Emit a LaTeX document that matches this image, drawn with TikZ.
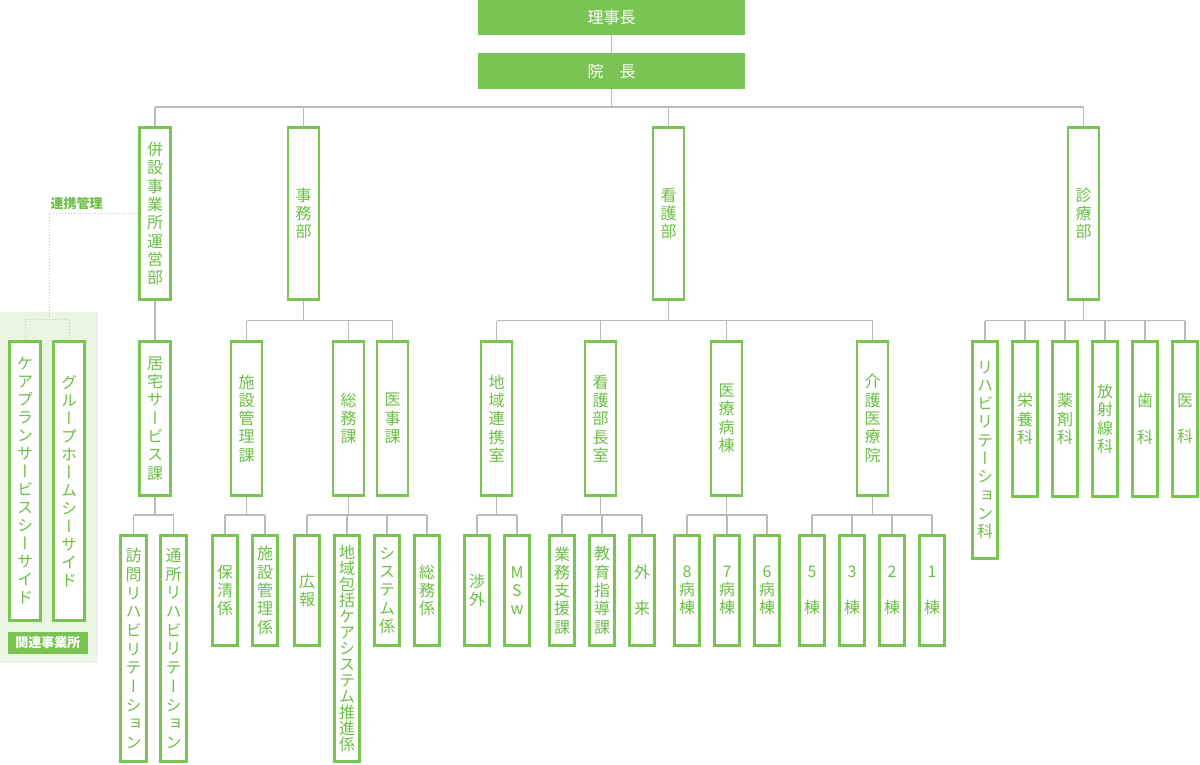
\documentclass[tikz,border=0pt]{standalone}
\usepackage{fontspec}
\setmainfont{Noto Sans CJK JP}
\newfontfamily\vjp[RawFeature=+vert]{Noto Sans CJK JP}
\usetikzlibrary{backgrounds}
\definecolor{gr}{HTML}{7AC454}
\definecolor{gt}{HTML}{6CBF45}
\definecolor{ln}{HTML}{BBBBBB}
\definecolor{dl}{HTML}{C8C8C8}
\definecolor{bgc}{HTML}{EBF5E3}
\pgfdeclarelayer{bottomlayer}
\pgfsetlayers{bottomlayer,background,main}
\newcommand\orgtree[5]{%
  \draw[conn] (#1.south) -- (#1.south |- 0,#2);
  \draw[conn] (#3.north |- 0,#2) -- (#4.north |- 0,#2);
  \foreach \c in {#5} {\draw[conn] (\c.north) -- (\c.north |- 0,#2);}%
}
\begin{document}
\begin{tikzpicture}[x=1pt,y=-1pt,
  conn/.style={draw=ln, line width=1.2pt},
  dotc/.style={draw=dl, line width=1pt, dotted},
  vpitch/.style={font=\vjp\fontsize{16}{#1}\selectfont},
  box/.style={draw=gr, line width=2.8pt, fill=white, inner sep=0pt, text=gt, align=center, vpitch=18.3},
  Ltwo/.style={box, minimum width=31pt, minimum height=172pt},
  Lthree/.style={box, minimum width=31pt, minimum height=154pt},
  Lfour/.style={box, minimum width=25.5pt, minimum height=110pt},
  Llong/.style={box, minimum width=25.5pt, minimum height=226pt},
  Lclin/.style={box, minimum width=25.5pt, minimum height=155pt},
  topbox/.style={fill=gr, inner sep=0pt, text=white, font=\fontsize{16}{18}\selectfont, minimum width=267pt},
  smalllabel/.style={inner sep=0pt, font=\bfseries\fontsize{13}{15}\selectfont}
]
\useasboundingbox (0,0) rectangle (1200,764);
\begin{pgfonlayer}{bottomlayer}
  \fill[bgc] (0,312) rectangle (98,663);
\end{pgfonlayer}

% top
\node[topbox, minimum height=35pt] (riji) at (611.5,17.5) {理事長};
\node[topbox, minimum height=36pt] (incho) at (611.5,71) {院　長};

% level 2
\node[Ltwo] (b1) at (155,213.5) {併\\設\\事\\業\\所\\運\\営\\部};
\node[Ltwo] (b2) at (303.5,213.5) {事\\務\\部};
\node[Ltwo] (b3) at (668.5,213.5) {看\\護\\部};
\node[Ltwo] (b4) at (1083.5,213.5) {診\\療\\部};

% level 3
\node[Lthree] (kyotaku) at (155,418.5) {居\\宅\\サ\\ー\\ビ\\ス\\課};
\node[Lthree] (shisetsu) at (246.5,418.5) {施\\設\\管\\理\\課};
\node[Lthree] (somu) at (348.5,418.5) {総\\務\\課};
\node[Lthree] (iji) at (392.5,418.5) {医\\事\\課};
\node[Lthree] (chiiki) at (496.5,418.5) {地\\域\\連\\携\\室};
\node[Lthree] (bucho) at (600.5,418.5) {看\\護\\部\\長\\室};
\node[Lthree] (iryo) at (726.5,418.5) {医\\療\\病\\棟};
\node[Lthree] (kaigo) at (872.5,418.5) {介\\護\\医\\療\\院};

% level 4
\node[Llong, vpitch=18.7] (houmon) at (133.5,648.5) {訪\\問\\リ\\ハ\\ビ\\リ\\テ\\ー\\シ\\ョ\\ン};
\node[Llong, vpitch=18.7] (tsusho) at (173.5,648.5) {通\\所\\リ\\ハ\\ビ\\リ\\テ\\ー\\シ\\ョ\\ン};
\node[Lfour] (hosei) at (225,590.5) {保\\清\\係};
\node[Lfour] (shisetsukakari) at (265,590.5) {施\\設\\管\\理\\係};
\node[Lfour] (koho) at (307,590.5) {広\\報};
\node[Llong, vpitch=16] (houkatsu) at (347,648.5) {地\\域\\包\\括\\ケ\\ア\\シ\\ス\\テ\\ム\\推\\進\\係};
\node[Lfour] (system) at (387,590.5) {シ\\ス\\テ\\ム\\係};
\node[Lfour] (somukakari) at (427,590.5) {総\\務\\係};
\node[Lfour] (shogai) at (477,590.5) {渉\\外};
\node[Lfour] (msw) at (517,590.5) {M\\S\\w};
\node[Lfour] (gyomu) at (562,590.5) {業\\務\\支\\援\\課};
\node[Lfour] (kyoiku) at (602,590.5) {教\\育\\指\\導\\課};
\node[Lfour] (gairai) at (642,590.5) {外\\　\\来};
\node[Lfour] (w8) at (687,590.5) {8\\病\\棟};
\node[Lfour] (w7) at (727,590.5) {7\\病\\棟};
\node[Lfour] (w6) at (767,590.5) {6\\病\\棟};
\node[Lfour] (k5) at (812,590.5) {5\\　\\棟};
\node[Lfour] (k3) at (852,590.5) {3\\　\\棟};
\node[Lfour] (k2) at (892,590.5) {2\\　\\棟};
\node[Lfour] (k1) at (932,590.5) {1\\　\\棟};

% clinical
\node[box, minimum width=25.5pt, minimum height=217pt] (rehab) at (985,450) {リ\\ハ\\ビ\\リ\\テ\\ー\\シ\\ョ\\ン\\科};
\node[Lclin] (eiyo) at (1025,419) {栄\\養\\科};
\node[Lclin] (yakuzai) at (1065,419) {薬\\剤\\科};
\node[Lclin] (hoshasen) at (1105,419) {放\\射\\線\\科};
\node[Lclin] (shika) at (1145,419) {歯\\　\\科};
\node[Lclin] (ika) at (1185,419) {医\\　\\科};

% related facilities
\node[box, minimum width=31pt, minimum height=279pt, vpitch=18] (care) at (25,481) {ケ\\ア\\プ\\ラ\\ン\\サ\\ー\\ビ\\ス\\シ\\ー\\サ\\イ\\ド};
\node[box, minimum width=31pt, minimum height=279pt, vpitch=18] (group) at (69,481) {グ\\ル\\ー\\プ\\ホ\\ー\\ム\\シ\\ー\\サ\\イ\\ド};
\node[smalllabel, fill=gr, text=white, minimum width=80pt, minimum height=22pt] (kanren) at (48,643) {関連事業所};
\node[smalllabel, text=gt] (renkei) at (76.5,204) {連携管理};
\coordinate (k0) at (49,319);

% connectors
\begin{pgfonlayer}{background}
  \draw[conn] (riji) -- (incho);
  \orgtree{incho}{107}{b1}{b4}{b1,b2,b3,b4}
  \draw[conn] (b1) -- (kyotaku);
  \orgtree{b2}{320.5}{shisetsu}{iji}{shisetsu,somu,iji}
  \orgtree{b3}{320.5}{chiiki}{kaigo}{chiiki,bucho,iryo,kaigo}
  \orgtree{b4}{320.5}{rehab}{ika}{rehab,eiyo,yakuzai,hoshasen,shika,ika}
  \orgtree{kyotaku}{515}{houmon}{tsusho}{houmon,tsusho}
  \orgtree{shisetsu}{515}{hosei}{shisetsukakari}{hosei,shisetsukakari}
  \orgtree{somu}{515}{koho}{somukakari}{koho,houkatsu,system,somukakari}
  \orgtree{chiiki}{515}{shogai}{msw}{shogai,msw}
  \orgtree{bucho}{515}{gyomu}{gairai}{gyomu,kyoiku,gairai}
  \orgtree{iryo}{515}{w8}{w6}{w8,w7,w6}
  \orgtree{kaigo}{515}{k5}{k1}{k5,k3,k2,k1}
  \draw[dotc] (b1.west) -| (k0);
  \draw[dotc] (care.north) |- (k0) -| (group.north);
\end{pgfonlayer}
\end{tikzpicture}
\end{document}
